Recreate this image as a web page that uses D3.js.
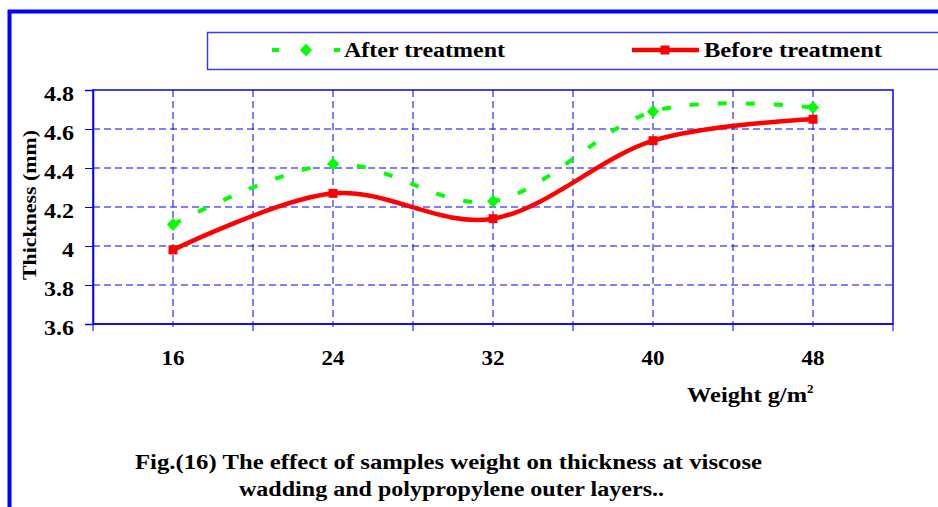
<!DOCTYPE html>
<html>
<head>
<meta charset="utf-8">
<script src="https://cdn.jsdelivr.net/npm/d3@7/dist/d3.min.js"></script>
<style>
  html, body { margin: 0; padding: 0; background: #ffffff; }
  svg { display: block; }
</style>
</head>
<body>
<svg id="chart" width="938" height="507"></svg>
<script>
// ---- data ----
const categories = ["16", "24", "32", "40", "48"];
const afterTreatment = [4.11, 4.42, 4.23, 4.69, 4.71];
const beforeTreatment = [3.98, 4.27, 4.14, 4.54, 4.65];
const yTicks = [3.6, 3.8, 4.0, 4.2, 4.4, 4.6, 4.8];
const seriesNames = ["After treatment", "Before treatment"];
const yTitle = "Thickness (mm)";
const xTitle = "Weight g/m";
const captionLines = [
  "Fig.(16) The effect of samples weight on thickness at viscose",
  "wadding and polypropylene outer layers.."
];

// ---- layout ----
const FONT = "Liberation Serif";
const svg = d3.select("#chart");
const plot = { left: 93, right: 893, top: 90, bottom: 324 };
const BLUE = "#0000ff";
const GREEN = "#00ff00";
const RED = "#ff0000";

function styleText(sel, size) {
  return sel.style("font-family", FONT).style("font-weight", "bold")
    .style("font-size", size + "px").attr("fill", "#000");
}
function fitWidth(sel, w) {
  return sel.attr("textLength", w).attr("lengthAdjust", "spacingAndGlyphs");
}
function stretch(sel, f) {
  sel.each(function () {
    const w = this.getComputedTextLength();
    d3.select(this).attr("textLength", w * f).attr("lengthAdjust", "spacingAndGlyphs");
  });
  return sel;
}

// outer chart frame (extends beyond the visible area)
svg.append("rect")
  .attr("x", 9.5).attr("y", 11.5)
  .attr("width", 1000).attr("height", 700)
  .attr("fill", "#fff").attr("stroke", BLUE).attr("stroke-width", 4);

// scales
const x = d3.scaleBand().domain(categories).range([plot.left, plot.right]).padding(0);
const y = d3.scaleLinear().domain([3.6, 4.8]).range([plot.bottom, plot.top]);
const cx = d => x(d) + x.bandwidth() / 2;

// gridlines
const gridG = svg.append("g");
const vGrid = [];
categories.forEach((c, i) => {
  vGrid.push(cx(c));
  if (i < categories.length - 1) vGrid.push(x(c) + x.bandwidth());
});
gridG.selectAll("line.v").data(vGrid).join("line")
  .attr("x1", d => d).attr("x2", d => d)
  .attr("y1", plot.top).attr("y2", plot.bottom)
  .attr("stroke", BLUE).attr("stroke-width", 1).attr("stroke-dasharray", "7,4");
gridG.selectAll("line.h").data(yTicks.filter(t => t > 3.6 && t < 4.8)).join("line")
  .attr("x1", plot.left).attr("x2", plot.right)
  .attr("y1", d => y(d)).attr("y2", d => y(d))
  .attr("stroke", BLUE).attr("stroke-width", 1).attr("stroke-dasharray", "7,4");

// plot border
svg.append("rect")
  .attr("x", plot.left).attr("y", plot.top)
  .attr("width", plot.right - plot.left).attr("height", plot.bottom - plot.top)
  .attr("fill", "none").attr("stroke", BLUE).attr("stroke-width", 1.5);

// y axis
const yAxis = d3.axisLeft(y).tickValues(yTicks).tickSize(8).tickPadding(11)
  .tickFormat(d => String(+d.toFixed(1)));
const yG = svg.append("g").attr("transform", `translate(${plot.left},0)`).call(yAxis);
yG.attr("font-family", FONT).attr("font-size", null);
yG.select(".domain").attr("stroke", BLUE).attr("stroke-width", 1.5);
yG.selectAll(".tick line").attr("stroke", BLUE).attr("stroke-width", 1);
styleText(yG.selectAll(".tick text"), 20).attr("dy", "0.5em");
stretch(yG.selectAll(".tick text"), 1.2);

// x axis: long ticks at category boundaries, short ticks at centers
const xG = svg.append("g");
xG.append("line").attr("x1", plot.left).attr("x2", plot.right)
  .attr("y1", plot.bottom).attr("y2", plot.bottom)
  .attr("stroke", BLUE).attr("stroke-width", 1.5);
const bounds = categories.map(c => x(c)).concat([plot.right]);
xG.selectAll("line.b").data(bounds).join("line")
  .attr("x1", d => d).attr("x2", d => d)
  .attr("y1", plot.bottom).attr("y2", plot.bottom + 7)
  .attr("stroke", BLUE).attr("stroke-width", 1);
xG.selectAll("line.c").data(categories).join("line")
  .attr("x1", d => cx(d)).attr("x2", d => cx(d))
  .attr("y1", plot.bottom).attr("y2", plot.bottom + 3)
  .attr("stroke", BLUE).attr("stroke-width", 1);
const xLab = xG.selectAll("text").data(categories).join("text")
  .attr("x", d => cx(d)).attr("y", 365)
  .attr("text-anchor", "middle")
  .text(d => d);
styleText(xLab, 20);
stretch(xLab, 1.15);

// axis titles
const yt = svg.append("text")
  .attr("transform", "translate(36,205) rotate(-90)")
  .attr("text-anchor", "middle")
  .text(yTitle);
styleText(yt, 19);
fitWidth(yt, 150);
const xt = svg.append("text").attr("x", 687).attr("y", 402);
styleText(xt, 20);
fitWidth(xt.append("tspan").text(xTitle), 120);
xt.append("tspan").attr("dy", -9).style("font-size", "13px").text("2");

// lines
const line = d3.line()
  .x((d, i) => cx(categories[i]))
  .y(d => y(d))
  .curve(d3.curveCardinal.tension(0));

svg.append("path").datum(beforeTreatment)
  .attr("d", line).attr("fill", "none")
  .attr("stroke", RED).attr("stroke-width", 4.5).attr("stroke-linejoin", "round");
svg.append("path").datum(afterTreatment)
  .attr("d", line).attr("fill", "none")
  .attr("stroke", GREEN).attr("stroke-width", 4).attr("stroke-dasharray", "9,19");

// markers
const diamondPath = (cxp, cyp) => `M${cxp},${cyp - 6.5}L${cxp + 6},${cyp}L${cxp},${cyp + 6.5}L${cxp - 6},${cyp}Z`;
const squarePath = (cxp, cyp) => `M${cxp - 4.5},${cyp - 4.5}h9v9h-9Z`;
svg.selectAll("path.mA").data(afterTreatment).join("path")
  .attr("d", (d, i) => diamondPath(cx(categories[i]), y(d))).attr("fill", GREEN);
svg.selectAll("path.mB").data(beforeTreatment).join("path")
  .attr("d", (d, i) => squarePath(cx(categories[i]), y(d))).attr("fill", RED);

// legend
const lg = svg.append("g");
lg.append("rect").attr("x", 207.5).attr("y", 32.5).attr("width", 800).attr("height", 37)
  .attr("fill", "#fff").attr("stroke", "#3a3aff").attr("stroke-width", 1.5);
lg.append("line").attr("x1", 272).attr("x2", 340).attr("y1", 50).attr("y2", 50)
  .attr("stroke", GREEN).attr("stroke-width", 4).attr("stroke-dasharray", "7,24");
lg.append("path").attr("d", diamondPath(306, 50)).attr("fill", GREEN);
const lt1 = lg.append("text").attr("x", 344).attr("y", 57).text(seriesNames[0]);
styleText(lt1, 20); fitWidth(lt1, 161);
lg.append("line").attr("x1", 632).attr("x2", 699).attr("y1", 50).attr("y2", 50)
  .attr("stroke", RED).attr("stroke-width", 4.5);
lg.append("path").attr("d", squarePath(665, 50)).attr("fill", RED);
const lt2 = lg.append("text").attr("x", 704).attr("y", 57).text(seriesNames[1]);
styleText(lt2, 20); fitWidth(lt2, 178);

// caption
const capWidths = [627, 425];
const capX = [135, 239];
const cap = svg.selectAll("text.cap").data(captionLines).join("text")
  .attr("class", "cap")
  .attr("x", (d, i) => capX[i]).attr("y", (d, i) => 469 + i * 27)
  .attr("textLength", (d, i) => capWidths[i]).attr("lengthAdjust", "spacingAndGlyphs")
  .text(d => d);
styleText(cap, 20);
</script>
</body>
</html>
